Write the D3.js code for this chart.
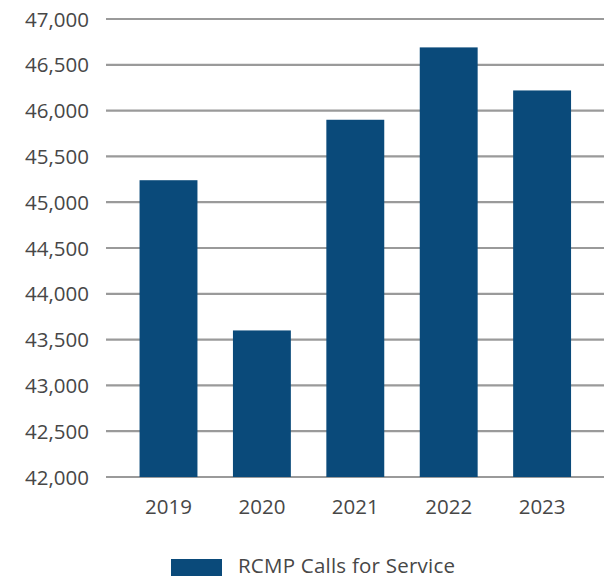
<!DOCTYPE html>
<html>
<head>
<meta charset="utf-8">
<script src="https://cdn.jsdelivr.net/npm/d3@7"></script>
<style>
  html, body { margin: 0; padding: 0; background: #fff; }
  svg { display: block; }
  text { font-family: "Open Sans", sans-serif; fill: #474747; }
</style>
</head>
<body>
<svg id="chart" width="606" height="579"></svg>
<script>
const categories = ["2019", "2020", "2021", "2022", "2023"];
const values = [45240, 43600, 45900, 46690, 46220];
const yTicks = [42000, 42500, 43000, 43500, 44000, 44500, 45000, 45500, 46000, 46500, 47000];
const seriesName = "RCMP Calls for Service";

const svg = d3.select("#chart");
const barColor = "#0a4a7a";

const y = d3.scaleLinear().domain([42000, 47000]).range([477, 19]);
const x = d3.scaleBand().domain(categories).range([121.8, 588.8])
  .paddingInner(0.38).paddingOuter(0.19);

// gridlines
svg.append("g").selectAll("line").data(yTicks).join("line")
  .attr("x1", 106).attr("x2", 604)
  .attr("y1", d => y(d)).attr("y2", d => y(d))
  .attr("stroke", "#9a9a9a").attr("stroke-width", 2.2);

// y labels via axis
const yAxis = d3.axisLeft(y).tickValues(yTicks).tickFormat(d3.format(",")).tickSize(0).tickPadding(0);
const ga = svg.append("g").attr("transform", "translate(89,0)").call(yAxis);
ga.select(".domain").remove();
ga.selectAll("text").attr("font-size", 20.5).attr("font-family", "Open Sans, sans-serif").attr("fill", "#474747").attr("dy", "0.35em");

// bars
svg.append("g").selectAll("rect").data(values).join("rect")
  .attr("x", (d, i) => x(categories[i]))
  .attr("width", x.bandwidth())
  .attr("y", d => y(d))
  .attr("height", d => y(42000) - y(d))
  .attr("fill", barColor);

// x labels
const xAxis = d3.axisBottom(x).tickSize(0).tickPadding(0);
const gx = svg.append("g").attr("transform", "translate(0,507)").call(xAxis);
gx.select(".domain").remove();
gx.selectAll("text").attr("font-size", 20.5).attr("font-family", "Open Sans, sans-serif").attr("fill", "#474747").attr("dy", "0.35em").attr("y", 0);

// legend
const lg = svg.append("g");
lg.append("rect").attr("x", 171).attr("y", 559).attr("width", 51).attr("height", 17).attr("fill", barColor);
lg.append("text").attr("x", 238).attr("y", 573.3)
  .attr("font-size", 20.5).attr("textLength", 217).text(seriesName);
</script>
</body>
</html>
